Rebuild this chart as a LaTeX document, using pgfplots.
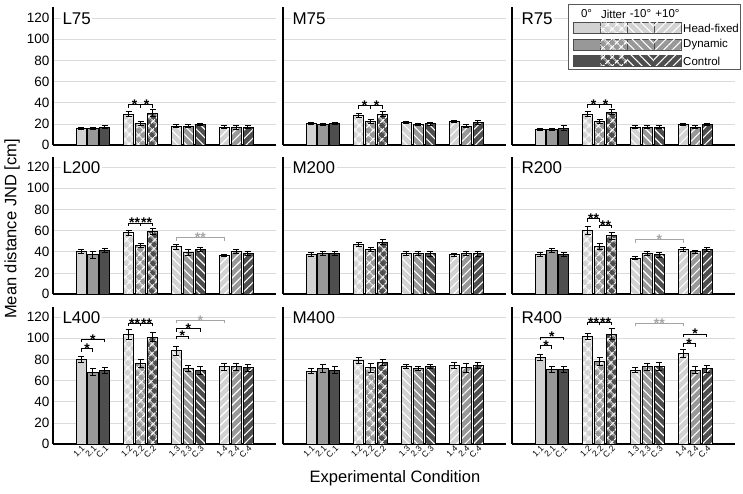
\documentclass[border=0pt]{standalone}
\usepackage{fontspec}
\setmainfont{Liberation Sans}
\usepackage{pgfplots}
\pgfplotsset{compat=1.18}
\usetikzlibrary{patterns.meta}

\definecolor{hf}{RGB}{210,210,210}
\definecolor{dy}{RGB}{152,152,152}
\definecolor{ct}{RGB}{78,78,78}
\definecolor{sg}{RGB}{165,165,165}

\tikzset{
  pS/.style={},
  pJ/.style={postaction={pattern={Hatch[angle=45,distance=6.5pt,line width=1.2pt]},pattern color=white}},
  pN/.style={postaction={pattern={Lines[angle=-45,distance=6pt,line width=1.1pt]},pattern color=white}},
  pP/.style={postaction={pattern={Lines[angle=45,distance=6pt,line width=1.1pt]},pattern color=white}},
}

\pgfplotsset{
  mybar/.style={ybar, bar width=0.84, bar shift=0pt, draw=black, line width=0.9pt,
    /pgfplots/error bars/y dir=both, /pgfplots/error bars/y explicit,
    /pgfplots/error bars/error bar style={line width=1pt, black, solid},
    /pgfplots/error bars/error mark options={rotate=90, mark size=3pt, line width=1pt, black}},
  panel/.style={scale only axis, width=223pt, height=137.5pt,
    xmin=-2.35, xmax=16.35, ymin=0, ymax=130,
    axis x line=bottom, axis y line=left,
    axis line style={line width=1.1pt, -},
    ytick={0,20,...,120}, ymajorgrids, grid style={black!14, line width=0.6pt},
    major tick length=0pt, clip=false,
    xtick={0,1,2,4,5,6,8,9,10,12,13,14},
    xticklabels={},
    yticklabels={},
    y tick label style={font=\fontsize{13.5}{14}\selectfont, /pgf/number format/assume math mode=true},
    x tick label style={font=\fontsize{8.5}{9}\selectfont, rotate=45, anchor=north east, inner sep=0.5pt}},
  leftcol/.style={yticklabels={0,20,40,60,80,100,120}},
  botrow/.style={xticklabels={1.1,2.1,C.1,1.2,2.2,C.2,1.3,2.3,C.3,1.4,2.4,C.4}},
}

\newcommand\B[5]{\addplot[fill=#1, #2, mybar] coordinates {(#3,#4) +- (0,#5)};}
\newcommand\Ttl[1]{\node[anchor=west, fill=white, inner sep=1.5pt, font=\fontsize{17}{18}\selectfont] at (rel axis cs:0.035,0.92) {#1};}
% \Sig{x1}{x2}{xmid}{y}{text}{color}
\newcommand\Sig[6]{%
  \draw[#6, line width=1pt] (axis cs:#1,#4) ++(0pt,-3pt) -- ++(0pt,3pt) -- (axis cs:#2,#4) -- ++(0pt,-3pt);
  \node[#6, anchor=base, inner sep=0pt, yshift=-4.8pt, font=\fontsize{14}{14}\selectfont\bfseries] at (axis cs:#3,#4) {#5};}

\begin{document}
\begin{tikzpicture}
\useasboundingbox (0pt,0pt) rectangle (743pt,493pt);

% ---------- Row 1 ----------
\begin{axis}[panel, leftcol, at={(53pt,348pt)}, anchor=south west]
\B{hf}{pS}{0}{16}{1}
\B{dy}{pS}{1}{15.5}{1}
\B{ct}{pS}{2}{17}{1.2}
\B{hf}{pJ}{4}{29}{2.5}
\B{dy}{pJ}{5}{20}{2}
\B{ct}{pJ}{6}{30}{3.5}
\B{hf}{pN}{8}{18}{1}
\B{dy}{pN}{9}{18}{1}
\B{ct}{pN}{10}{19.5}{1.2}
\B{hf}{pP}{12}{17}{1.5}
\B{dy}{pP}{13}{16.5}{1.5}
\B{ct}{pP}{14}{17}{1.5}
\Sig{4}{5}{4.5}{38}{*}{black}
\Sig{5}{6}{5.5}{38}{*}{black}
\Ttl{L75}
\end{axis}

\begin{axis}[panel, at={(283pt,348pt)}, anchor=south west]
\B{hf}{pS}{0}{20}{1}
\B{dy}{pS}{1}{19}{1}
\B{ct}{pS}{2}{20}{1}
\B{hf}{pJ}{4}{28}{2}
\B{dy}{pJ}{5}{22}{2}
\B{ct}{pJ}{6}{29}{2.5}
\B{hf}{pN}{8}{21}{1}
\B{dy}{pN}{9}{19}{1}
\B{ct}{pN}{10}{20}{1.5}
\B{hf}{pP}{12}{22}{1}
\B{dy}{pP}{13}{18}{1.5}
\B{ct}{pP}{14}{21}{2}
\Sig{4}{5}{4.5}{37}{*}{black}
\Sig{5}{6}{5.5}{37}{*}{black}
\Ttl{M75}
\end{axis}

\begin{axis}[panel, at={(512pt,348pt)}, anchor=south west]
\B{hf}{pS}{0}{15}{1}
\B{dy}{pS}{1}{15}{1}
\B{ct}{pS}{2}{16}{2}
\B{hf}{pJ}{4}{29}{2.5}
\B{dy}{pJ}{5}{22}{2}
\B{ct}{pJ}{6}{31}{2.5}
\B{hf}{pN}{8}{17}{1}
\B{dy}{pN}{9}{17}{1}
\B{ct}{pN}{10}{17}{1}
\B{hf}{pP}{12}{19}{1}
\B{dy}{pP}{13}{17}{1}
\B{ct}{pP}{14}{19}{1}
\Sig{4}{5}{4.5}{38}{*}{black}
\Sig{5}{6}{5.5}{38}{*}{black}
\Ttl{R75}
\end{axis}

% ---------- Row 2 ----------
\begin{axis}[panel, leftcol, at={(53pt,199pt)}, anchor=south west]
\B{hf}{pS}{0}{40}{2}
\B{dy}{pS}{1}{37}{3}
\B{ct}{pS}{2}{41}{2}
\B{hf}{pJ}{4}{58}{2.5}
\B{dy}{pJ}{5}{46}{2}
\B{ct}{pJ}{6}{59}{3}
\B{hf}{pN}{8}{44.5}{2}
\B{dy}{pN}{9}{39}{3}
\B{ct}{pN}{10}{42}{2}
\B{hf}{pP}{12}{36}{1}
\B{dy}{pP}{13}{40}{2}
\B{ct}{pP}{14}{38}{2}
\Sig{4}{5}{4.5}{67}{**}{black}
\Sig{5}{6}{5.5}{67}{**}{black}
\Sig{8}{12}{10}{53}{**}{sg}
\Ttl{L200}
\end{axis}

\begin{axis}[panel, at={(283pt,199pt)}, anchor=south west]
\B{hf}{pS}{0}{37}{2}
\B{dy}{pS}{1}{38}{2}
\B{ct}{pS}{2}{38}{2}
\B{hf}{pJ}{4}{47}{2}
\B{dy}{pJ}{5}{42}{2}
\B{ct}{pJ}{6}{49}{2.5}
\B{hf}{pN}{8}{38}{2}
\B{dy}{pN}{9}{38}{2}
\B{ct}{pN}{10}{38}{2.5}
\B{hf}{pP}{12}{37}{1.5}
\B{dy}{pP}{13}{38}{2}
\B{ct}{pP}{14}{38}{2.5}
\Ttl{M200}
\end{axis}

\begin{axis}[panel, at={(512pt,199pt)}, anchor=south west]
\B{hf}{pS}{0}{37}{2}
\B{dy}{pS}{1}{41}{2}
\B{ct}{pS}{2}{37}{2}
\B{hf}{pJ}{4}{60}{3.5}
\B{dy}{pJ}{5}{45}{2.5}
\B{ct}{pJ}{6}{55}{3}
\B{hf}{pN}{8}{34}{1.5}
\B{dy}{pN}{9}{38}{2}
\B{ct}{pN}{10}{37}{2.5}
\B{hf}{pP}{12}{42}{1.5}
\B{dy}{pP}{13}{40}{1.5}
\B{ct}{pP}{14}{42}{2}
\Sig{4}{5}{4.5}{71}{**}{black}
\Sig{5}{6}{5.5}{65}{**}{black}
\Sig{8}{12}{10}{51.5}{*}{sg}
\Ttl{R200}
\end{axis}

% ---------- Row 3 ----------
\begin{axis}[panel, leftcol, botrow, at={(53pt,49pt)}, anchor=south west]
\B{hf}{pS}{0}{80}{3}
\B{dy}{pS}{1}{68}{3}
\B{ct}{pS}{2}{69.5}{3}
\B{hf}{pJ}{4}{103.5}{4.5}
\B{dy}{pJ}{5}{76}{3.5}
\B{ct}{pJ}{6}{101}{4.5}
\B{hf}{pN}{8}{88}{4.5}
\B{dy}{pN}{9}{71.5}{3}
\B{ct}{pN}{10}{69.5}{3.5}
\B{hf}{pP}{12}{73}{3.5}
\B{dy}{pP}{13}{73}{3.5}
\B{ct}{pP}{14}{72}{3}
\Sig{0}{1}{0.5}{90}{*}{black}
\Sig{0}{2}{1}{99}{*}{black}
\Sig{4}{5}{4.5}{114}{**}{black}
\Sig{5}{6}{5.5}{114}{**}{black}
\Sig{8}{9}{8.5}{102}{*}{black}
\Sig{8}{10}{9}{109}{*}{black}
\Sig{8}{12}{10}{117}{*}{sg}
\Ttl{L400}
\end{axis}

\begin{axis}[panel, botrow, at={(283pt,49pt)}, anchor=south west]
\B{hf}{pS}{0}{69}{2}
\B{dy}{pS}{1}{71.5}{4}
\B{ct}{pS}{2}{70}{3}
\B{hf}{pJ}{4}{79}{3}
\B{dy}{pJ}{5}{72}{4}
\B{ct}{pJ}{6}{77}{3}
\B{hf}{pN}{8}{73}{2}
\B{dy}{pN}{9}{71.5}{2}
\B{ct}{pN}{10}{73}{2}
\B{hf}{pP}{12}{74}{3}
\B{dy}{pP}{13}{72}{4}
\B{ct}{pP}{14}{74}{3}
\Ttl{M400}
\end{axis}

\begin{axis}[panel, botrow, at={(512pt,49pt)}, anchor=south west]
\B{hf}{pS}{0}{82}{3}
\B{dy}{pS}{1}{70.5}{3}
\B{ct}{pS}{2}{70.5}{3}
\B{hf}{pJ}{4}{101.5}{3}
\B{dy}{pJ}{5}{78}{3.5}
\B{ct}{pJ}{6}{104}{5}
\B{hf}{pN}{8}{70}{2.5}
\B{dy}{pN}{9}{73}{3.5}
\B{ct}{pN}{10}{73.5}{4}
\B{hf}{pP}{12}{85.5}{4}
\B{dy}{pP}{13}{70}{3.5}
\B{ct}{pP}{14}{71}{3.5}
\Sig{0}{1}{0.5}{93}{*}{black}
\Sig{0}{2}{1}{101}{*}{black}
\Sig{4}{5}{4.5}{115}{**}{black}
\Sig{5}{6}{5.5}{115}{**}{black}
\Sig{8}{12}{10}{114}{**}{sg}
\Sig{12}{13}{12.5}{95}{*}{black}
\Sig{12}{14}{13}{104}{*}{black}
\Ttl{R400}
\end{axis}

% ---------- axis titles ----------
\node[rotate=90, font=\fontsize{16.5}{17}\selectfont] at (12pt,264pt) {Mean distance JND [cm]};
\node[font=\fontsize{16.5}{17}\selectfont] at (395pt,15pt) {Experimental Condition};

% ---------- legend ----------
\begin{scope}[x=1pt,y=1pt]
\draw[fill=white, draw=black!65, line width=0.7pt] (568,489) rectangle (740,424);
\begin{scope}[font=\fontsize{11.5}{12}\selectfont]
\node at (586.5,479) {0°};
\node at (613.5,479) {Jitter};
\node at (640.5,479) {-10°};
\node at (667.5,479) {+10°};
\foreach \c/\yt/\lab in {hf/471/Head-fixed, dy/454/Dynamic, ct/438/Control}{
  \draw[fill=\c, draw=black!70, line width=0.5pt] (573,\yt) rectangle (600,\yt-11);
  \draw[fill=\c, draw=black!70, line width=0.5pt, pJ] (600,\yt) rectangle (627,\yt-11);
  \draw[fill=\c, draw=black!70, line width=0.5pt, pN] (627,\yt) rectangle (654,\yt-11);
  \draw[fill=\c, draw=black!70, line width=0.5pt, pP] (654,\yt) rectangle (681,\yt-11);
  \node[anchor=west, inner sep=1pt] at (682,\yt-6) {\lab};
}
\end{scope}
\end{scope}
\end{tikzpicture}
\end{document}
